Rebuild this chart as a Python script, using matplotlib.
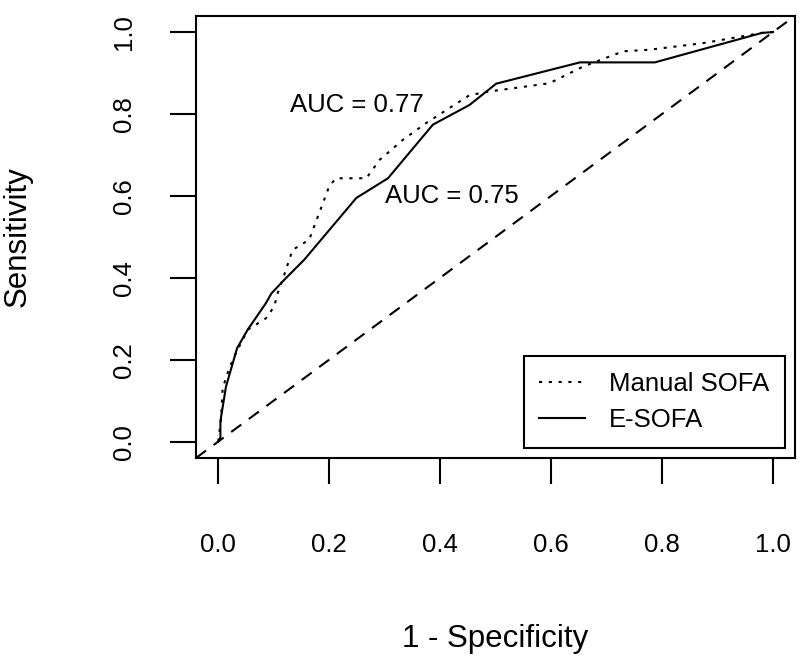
import matplotlib
matplotlib.use('Agg')
import matplotlib.pyplot as plt

plt.rcParams['font.family'] = ['Liberation Sans', 'DejaVu Sans']

# ROC points (1 - specificity, sensitivity)
manual_fpr = [0, 0.005, 0.008, 0.014, 0.020, 0.029, 0.053, 0.086, 0.101, 0.107, 0.116, 0.134,
              0.164, 0.200, 0.212, 0.267, 0.291, 0.333, 0.375, 0.453, 0.489, 0.597, 0.658,
              0.730, 0.778, 0.874, 0.980, 1.0]
manual_tpr = [0, 0.053, 0.130, 0.155, 0.179, 0.208, 0.273, 0.301, 0.330, 0.362, 0.395, 0.468,
              0.493, 0.623, 0.643, 0.643, 0.688, 0.737, 0.778, 0.846, 0.855, 0.875, 0.916,
              0.953, 0.957, 0.973, 0.998, 1.0]

esofa_fpr = [0, 0.004, 0.004, 0.014, 0.034, 0.053, 0.086, 0.096, 0.119, 0.155, 0.249, 0.306,
             0.387, 0.453, 0.501, 0.652, 0.787, 0.980, 1.0]
esofa_tpr = [0, 0.010, 0.050, 0.134, 0.228, 0.273, 0.338, 0.362, 0.395, 0.444, 0.595, 0.643,
             0.774, 0.822, 0.874, 0.926, 0.926, 0.998, 1.0]

labels = ['Manual SOFA', 'E-SOFA']
auc_text = ['AUC = 0.77', 'AUC = 0.75']
ticks = [0.0, 0.2, 0.4, 0.6, 0.8, 1.0]

fs = 18.5      # text, ticks, legend
fs_lab = 22.5  # axis titles are a bit bigger (cex.lab)
lw = 1.5

fig = plt.figure(figsize=(8, 6.68), dpi=100)
ax = fig.add_axes([0.245, 0.3144, 0.749, 0.6621])

ax.plot(manual_fpr, manual_tpr, color='black', lw=lw, linestyle=(0, (1.5, 3.2)), label=labels[0])
ax.plot(esofa_fpr, esofa_tpr, color='black', lw=lw, linestyle='-', label=labels[1])
ax.axline((0, 0), (1, 1), color='black', lw=lw, linestyle=(0, (6, 4.5)))

ax.text(0.25, 0.822, auc_text[0], fontsize=fs, ha='center', va='center')
ax.text(0.4215, 0.60, auc_text[1], fontsize=fs, ha='center', va='center')

ax.set_xlim(-0.04, 1.04)
ax.set_ylim(-0.04, 1.04)
ax.set_xticks(ticks)
ax.set_yticks(ticks)
ax.set_xticklabels(['%.1f' % t for t in ticks])
ax.set_yticklabels(['%.1f' % t for t in ticks])

for s in ax.spines.values():
    s.set_linewidth(lw)
    s.set_color('black')

ax.tick_params(axis='both', length=19, width=lw, labelsize=fs, direction='out')
ax.tick_params(axis='x', pad=35)
ax.tick_params(axis='y', pad=24, labelrotation=90)
for lbl in ax.get_yticklabels():
    lbl.set_va('center')

ax.set_xlabel('1 - Specificity', fontsize=fs_lab)
ax.set_ylabel('Sensitivity', fontsize=fs_lab)
ax.xaxis.set_label_coords(0.5, -0.375)
ax.yaxis.set_label_coords(-0.272, 0.5)

leg = ax.legend(loc='lower right', bbox_to_anchor=(0.983, 0.0226), fontsize=fs,
                frameon=True, fancybox=False, edgecolor='black', framealpha=1,
                handlelength=1.77, handletextpad=0.93, borderpad=0.62, labelspacing=0.47,
                borderaxespad=0)
leg.get_frame().set_linewidth(lw)

fig.savefig('out.png', dpi=100)
